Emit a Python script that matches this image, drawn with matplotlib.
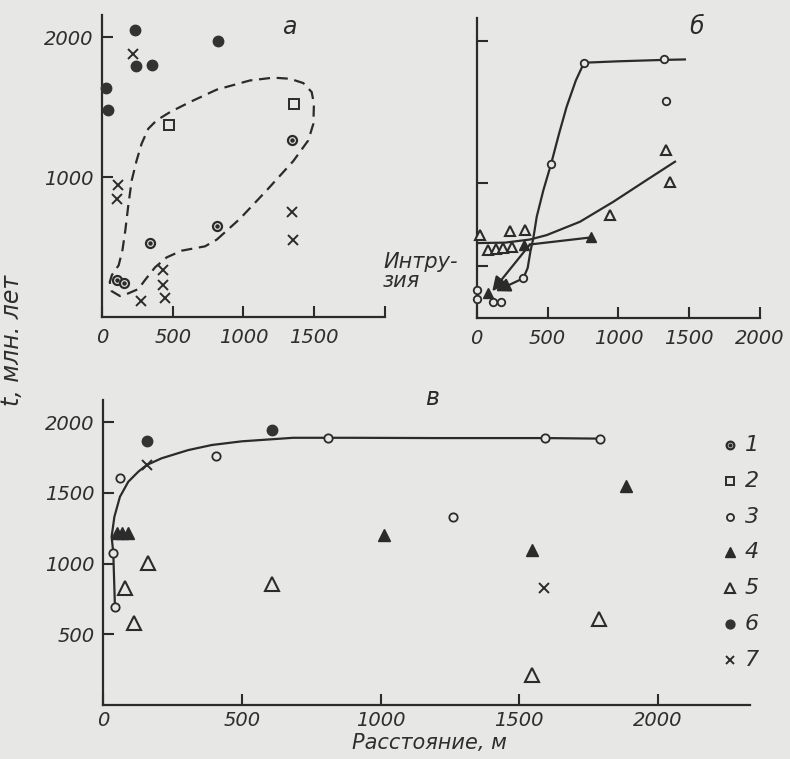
import matplotlib
matplotlib.use("Agg")
import matplotlib.pyplot as plt
from matplotlib.lines import Line2D

BG = "#e7e8e5"
INK = "#2b2b2b"

plt.rcParams["font.family"] = ["DejaVu Sans"]
plt.rcParams["font.style"] = "italic"
plt.rcParams["font.size"] = 14

# ---- panel а: scattered ages vs distance ----
a_s1 = [(1340, 1262), (810, 648), (339, 531), (104, 264), (158, 241)]
a_s2 = [(473, 1369), (1357, 1524)]
a_s6 = [(233, 2048), (822, 1971), (240, 1790), (351, 1802), (28, 1636), (45, 1476)]
a_s7 = [(221, 1881), (115, 940), (104, 845), (1340, 750), (1347, 548),
        (433, 336), (433, 229), (445, 134), (276, 116)]
# outline of the grouped field (dashed)
a_field = [(810, 552), (975, 702), (1164, 905), (1352, 1114), (1458, 1262),
           (1494, 1381), (1498, 1524), (1482, 1607), (1423, 1671), (1329, 1702),
           (1211, 1710), (1046, 1690), (810, 1624), (622, 1536), (481, 1464),
           (386, 1405), (327, 1345), (280, 1238), (245, 1119), (210, 976),
           (185, 790), (165, 620), (145, 480), (118, 370), (70, 300), (55, 250),
           (68, 185), (127, 150), (186, 169), (257, 200), (304, 264), (375, 355),
           (457, 426), (563, 474), (728, 505), (810, 552)]

# ---- panel б: profile from the intrusion ----
b_s3 = [(758, 1845), (1325, 1871), (1334, 1577), (525, 1131), (329, 327),
        (5, 244), (5, 179), (115, 162), (174, 162)]
b_s5 = [(23, 632), (235, 657), (340, 667), (80, 526), (134, 531), (186, 538),
        (252, 545), (941, 772), (1336, 1230), (1365, 1007)]
b_s4 = [(337, 562), (809, 615), (80, 221)]
b_curve3 = [(329, 327), (360, 400), (380, 520), (400, 610), (424, 761), (471, 948),
            (525, 1131), (580, 1340), (635, 1535), (700, 1720), (758, 1845),
            (1000, 1855), (1325, 1865), (1470, 1868)]
b_curve5 = [(0, 575), (200, 578), (376, 600), (494, 631), (729, 725), (965, 866),
            (1200, 1019), (1400, 1148)]
b_line4 = [(809, 615), (376, 565)]
b_arrows = [((376, 565), (110, 236)), ((329, 327), (135, 236))]
intrusion_t = 410

# ---- panel в ----
c_s3 = [(43, 693), (37, 1077), (61, 1603), (406, 1760), (811, 1889), (1261, 1329),
        (1594, 1892), (1792, 1884)]
c_s6 = [(157, 1869), (609, 1943)]
c_s7 = [(157, 1697), (1588, 829)]
c_s4 = [(49, 1216), (67, 1216), (91, 1216), (1011, 1201), (1886, 1552), (1546, 1095)]
c_s5 = [(163, 1002), (79, 825), (113, 578), (609, 855), (1546, 212), (1787, 606)]
c_curve = [(43, 693), (37, 1077), (31, 1190), (41, 1332), (61, 1473), (91, 1579),
           (127, 1650), (157, 1697), (211, 1745), (307, 1803), (392, 1839),
           (500, 1865), (685, 1890), (900, 1890), (1200, 1888), (1594, 1888),
           (1792, 1884)]

legend_labels = ["1", "2", "3", "4", "5", "6", "7"]

STYLE = {
    "1": dict(marker="o", ms=6.5, mfc=BG, mec=INK, mew=1.6),
    "2": dict(marker="s", ms=7, mfc=BG, mec=INK, mew=1.4),
    "3": dict(marker="o", ms=6, mfc=BG, mec=INK, mew=1.3),
    "4": dict(marker="^", ms=8, mfc=INK, mec=INK, mew=1.0),
    "5": dict(marker="^", ms=9, mfc=BG, mec=INK, mew=1.5),
    "6": dict(marker="o", ms=7.5, mfc="#333333", mec="#333333", mew=1.0),
    "7": dict(marker="x", ms=6.5, mec=INK, mew=1.4),
}


def pts(ax, data, key, scale=1.0, z=4):
    xs = [p[0] for p in data]
    ys = [p[1] for p in data]
    st = dict(STYLE[key])
    st["ms"] = st["ms"] * scale
    ax.plot(xs, ys, ls="none", zorder=z, clip_on=False, **st)
    if key == "1":
        ax.plot(xs, ys, ls="none", marker="o", ms=2.2 * scale, mfc=INK, mec=INK,
                zorder=z + 1, clip_on=False)


def line(ax, data, **kw):
    ax.plot([p[0] for p in data], [p[1] for p in data], color=INK, lw=1.6,
            zorder=3, **kw)


def setup(ax, xlim, ylim, xticks, yticks, xlabels, ylabels):
    ax.set_facecolor(BG)
    ax.set_xlim(*xlim)
    ax.set_ylim(*ylim)
    for s in ("top", "right"):
        ax.spines[s].set_visible(False)
    for s in ("left", "bottom"):
        ax.spines[s].set_linewidth(1.6)
        ax.spines[s].set_color(INK)
    ax.set_xticks(xticks)
    ax.set_xticklabels(xlabels)
    ax.set_yticks(yticks)
    ax.set_yticklabels(ylabels)
    ax.tick_params(direction="in", length=8, width=1.5, color=INK,
                   labelcolor="#2e2e2e", labelsize=14)
    ax.tick_params(axis="x", pad=8)
    ax.tick_params(axis="y", pad=6)


fig = plt.figure(figsize=(7.9, 7.59), dpi=100, facecolor=BG)

# panel а
ax1 = fig.add_axes([0.1291, 0.5823, 0.3582, 0.3984])
setup(ax1, (0, 2000), (0, 2160), [0, 500, 1000, 1500, 2000], [1000, 2000],
      ["0", "500", "1000", "1500", ""], ["1000", "2000"])
ax1.plot([p[0] for p in a_field], [p[1] for p in a_field], color=INK, lw=1.6,
         ls=(0, (5, 3)), zorder=2)
pts(ax1, a_s6, "6")
pts(ax1, a_s7, "7")
pts(ax1, a_s2, "2")
pts(ax1, a_s1, "1")
ax1.text(1270, 2020, "а", fontsize=17, color=INK)

# panel б
ax2 = fig.add_axes([0.6034, 0.5806, 0.3586, 0.3957])
setup(ax2, (0, 2000), (45, 2160), [0, 500, 1000, 1500, 2000],
      [intrusion_t, 1000, 2000], ["0", "500", "1000", "1500", "2000"], ["", "", ""])
line(ax2, b_curve3)
line(ax2, b_curve5)
line(ax2, b_line4)
for (x0, y0), (x1, y1) in b_arrows:
    ax2.annotate("", xy=(x1, y1), xytext=(x0, y0),
                 arrowprops=dict(arrowstyle="-|>,head_length=0.6,head_width=0.3",
                                 color=INK, lw=1.6, shrinkA=0, shrinkB=0), zorder=3)
pts(ax2, b_s3, "3", 0.9)
pts(ax2, b_s5, "5", 0.8)
pts(ax2, b_s4, "4", 0.9)
ax2.text(1500, 2050, "б", fontsize=17, color=INK)
ax2.text(-0.33, intrusion_t - 35, "Интру-\nзия", transform=ax2.get_yaxis_transform(),
         ha="left", va="center", fontsize=15, color="#2e2e2e", linespacing=0.95)

# panel в
ax3 = fig.add_axes([0.1304, 0.0711, 0.8185, 0.4024])
setup(ax3, (0, 2330), (0, 2160), [0, 500, 1000, 1500, 2000], [500, 1000, 1500, 2000],
      ["0", "500", "1000", "1500", "2000"], ["500", "1000", "1500", "2000"])
ax3.tick_params(axis="x", pad=4)
line(ax3, c_curve)
pts(ax3, c_s3, "3")
pts(ax3, c_s6, "6")
pts(ax3, c_s7, "7", 1.2)
pts(ax3, c_s4, "4")
pts(ax3, c_s5, "5", 1.15)
ax3.text(1160, 2120, "в", fontsize=17, color=INK)
ax3.set_xlabel("Расстояние, м", fontsize=15, color="#2e2e2e")
ax3.xaxis.set_label_coords(0.505, -0.092)

# key of symbols
for i, lab in enumerate(legend_labels):
    yf = 1 - (445 + 35.8 * i) / 759
    st = dict(STYLE[lab])
    st["ms"] = st["ms"] * 0.85
    fig.add_artist(Line2D([730 / 790], [yf], ls="none", **st))
    if lab == "1":
        fig.add_artist(Line2D([730 / 790], [yf], ls="none", marker="o", ms=2,
                              mfc=INK, mec=INK))
    fig.text(745 / 790, yf, lab, va="center", ha="left", fontsize=16, color="#2e2e2e")

fig.text(12 / 790, 1 - 340 / 759, "t, млн. лет", rotation=90, va="center",
         ha="center", fontsize=17, color="#2e2e2e")

fig.savefig("out.png", dpi=100, facecolor=BG)
